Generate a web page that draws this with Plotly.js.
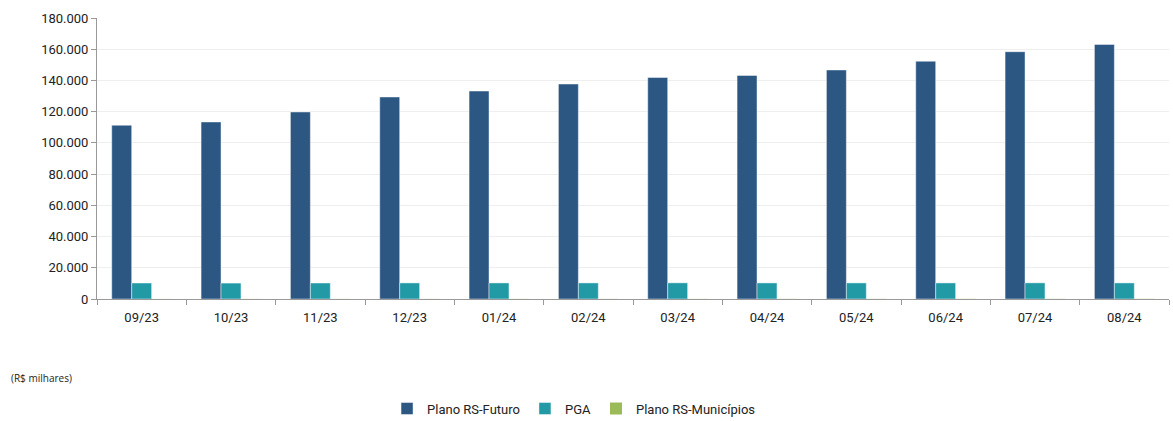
<!DOCTYPE html>
<html>
<head>
<meta charset="utf-8">
<script src="https://cdn.plot.ly/plotly-3.0.1.min.js"></script>
<style>html,body{margin:0;padding:0;background:#fff;}#chart{width:1173px;height:421px;}</style>
</head>
<body>
<div id="chart"></div>
<script>
const categories = ["09/23","10/23","11/23","12/23","01/24","02/24","03/24","04/24","05/24","06/24","07/24","08/24"];
const rsFuturo = [111300,113400,119800,129400,133200,137700,141900,143200,146700,152300,158400,163100];
const pga = [10250,10200,10250,10300,10300,10300,10350,10300,10300,10300,10350,10300];
const rsMunicipios = [40,45,50,55,60,65,70,75,80,85,90,95];

const font = {family: "Roboto, 'Noto Sans', sans-serif", size: 13, color: "#222"};
const traces = [
  {type:"bar", name:"Plano RS-Futuro", x:categories, y:rsFuturo,
   marker:{color:"#2c5783", line:{color:"rgba(255,255,255,0.45)", width:1}}},
  {type:"bar", name:"PGA", x:categories, y:pga,
   marker:{color:"#229aa6", line:{color:"rgba(255,255,255,0.45)", width:1}}},
  {type:"bar", name:"Plano RS-Municípios", x:categories, y:rsMunicipios,
   marker:{color:"#9bbb59", line:{width:0}}}
];
const layout = {
  width:1173, height:421,
  margin:{l:97, r:4, t:18, b:122, autoexpand:false},
  paper_bgcolor:"#fff", plot_bgcolor:"#fff",
  separators:",.",
  barmode:"group", bargap:0.33, bargroupgap:0,
  font: font,
  showlegend:true,
  legend:{orientation:"h", x:0.445, xanchor:"center", y:-0.39, yanchor:"middle",
          font:{family:"Roboto, sans-serif", size:13, color:"#222"}, itemwidth:30, tracegroupgap:0},
  xaxis:{type:"category", showline:true, linecolor:"#999", linewidth:1,
         ticks:"outside", tickson:"boundaries", ticklen:5, tickcolor:"#999",
         ticklabelstandoff:6, automargin:false,
         showgrid:false, tickfont:{size:13, color:"#222"}},
  yaxis:{range:[0,180000], dtick:20000, tickformat:",d", showline:true, linecolor:"#999", linewidth:1,
         ticks:"outside", ticklen:5, tickcolor:"#999", showgrid:true, gridcolor:"#eeeeee",
         automargin:false, zeroline:false, tickfont:{size:13, color:"#222"}},
  annotations:[
    {text:"(R$ milhares)", xref:"paper", yref:"paper", x:-0.082, y:-0.281, xanchor:"left", yanchor:"middle",
     showarrow:false, font:{family:"'Open Sans', 'Noto Sans', sans-serif", size:10, color:"#222"}}
  ]
};
Plotly.newPlot("chart", traces, layout, {displayModeBar:false, staticPlot:true});
</script>
</body>
</html>
